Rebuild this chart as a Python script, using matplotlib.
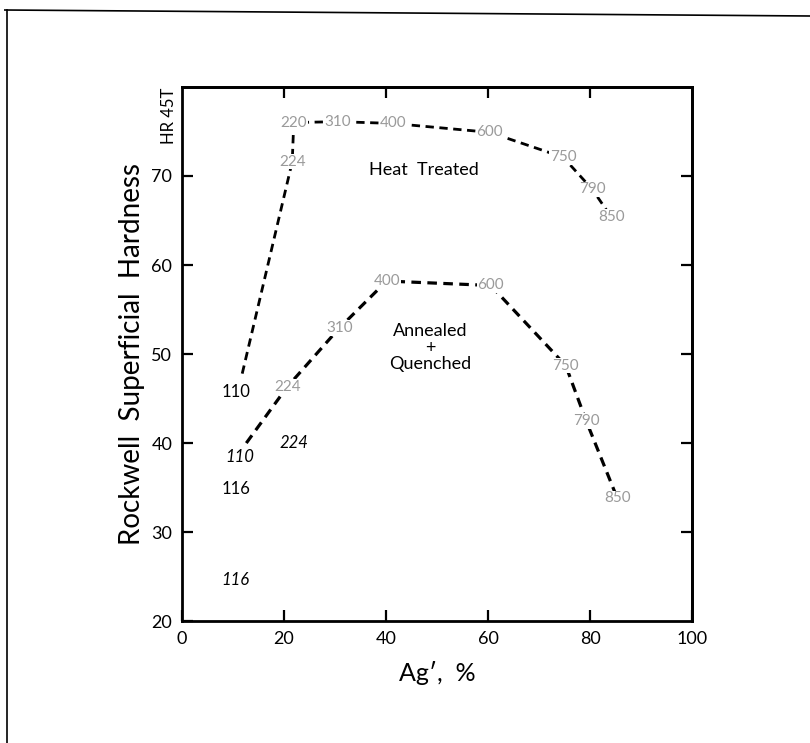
import matplotlib.pyplot as plt
from matplotlib.lines import Line2D

plt.rcParams['font.family'] = ['Lato', 'DejaVu Sans']

# Heat treated curve (alloy numbers printed along the curve)
ht_x = [11.8, 21.6, 21.9, 30.6, 41.3, 60.3, 74.7, 80.4, 84.1]
ht_y = [47.8, 71.6, 76.0, 76.1, 75.9, 74.9, 72.1, 68.5, 65.4]
ht_labels = ['', '224', '220', '310', '400', '600', '750', '790', '850']

# Annealed + quenched curve
aq_x = [12.6, 20.6, 30.8, 40.1, 60.5, 75.2, 79.2, 85.3]
aq_y = [40.0, 46.3, 52.9, 58.2, 57.7, 48.7, 42.5, 33.8]
aq_labels = ['', '224', '310', '400', '600', '750', '790', '850']

# isolated alloy values (upright = heat treated, italic = annealed + quenched)
pt_text = ['110', '116', '110', '116', '224']
pt_x = [10.6, 10.6, 11.4, 10.4, 22.0]
pt_y = [45.7, 34.8, 38.4, 24.6, 40.0]
pt_italic = [False, False, True, True, True]

xticks = [0, 20, 40, 60, 80, 100]
yticks = [20, 30, 40, 50, 60, 70]

fig = plt.figure(figsize=(8.1, 7.43), dpi=100)
ax = fig.add_axes([0.2247, 0.164, 0.63, 0.719])

ax.plot(ht_x, ht_y, color='black', lw=2.0, ls=(0, (3, 2)), zorder=2)
ax.plot(aq_x, aq_y, color='black', lw=2.3, ls=(0, (3, 2)), zorder=2)

for xs, ys, labs in [(ht_x, ht_y, ht_labels), (aq_x, aq_y, aq_labels)]:
    for x, y, t in zip(xs, ys, labs):
        if t:
            ax.text(x, y, t, ha='center', va='center', fontsize=11,
                    color='#9a9a9a', zorder=3,
                    bbox=dict(facecolor='white', edgecolor='none', pad=0.5))

for t, x, y, it in zip(pt_text, pt_x, pt_y, pt_italic):
    ax.text(x, y, t, ha='center', va='center', fontsize=12,
            style='italic' if it else 'normal', color='black')

ax.text(47.4, 70.7, 'Heat  Treated', ha='center', va='center', fontsize=13)
ax.text(48.7, 50.7, 'Annealed\n+\nQuenched', ha='center', va='center',
        fontsize=13, linespacing=1.05)

ax.set_xlim(0, 100)
ax.set_ylim(20, 80)
ax.set_xticks(xticks)
ax.set_yticks(yticks)
ax.tick_params(direction='in', length=8, width=1.6, labelsize=13, pad=7)

# inward ticks on top and right without labels
top = ax.secondary_xaxis('top')
top.set_xticks([20, 40, 60, 80])
top.tick_params(direction='in', length=8, width=1.6, labeltop=False)
right = ax.secondary_yaxis('right')
right.set_yticks(yticks[1:])
right.tick_params(direction='in', length=8, width=1.6, labelright=False)

for s in ax.spines.values():
    s.set_linewidth(2)
top.spines['top'].set_linewidth(2)
right.spines['right'].set_linewidth(2)

ax.set_xlabel("Ag\u2032,  %", fontsize=18, labelpad=10)
ax.set_ylabel('Rockwell  Superficial  Hardness', fontsize=20)
ax.yaxis.set_label_coords(-0.072, 0.5)
ax.text(-2.6, 76.8, 'HR 45T', rotation=90, ha='center', va='center',
        fontsize=12)

# frame lines of the scanned page
fig.add_artist(Line2D([0.006, 1.0], [1 - 10 / 743, 1 - 16 / 743],
                      color='black', lw=1.2))
fig.add_artist(Line2D([0.009, 0.009], [1 - 10 / 743, 0.0],
                      color='black', lw=1.2))

fig.savefig('out.png', dpi=100)
